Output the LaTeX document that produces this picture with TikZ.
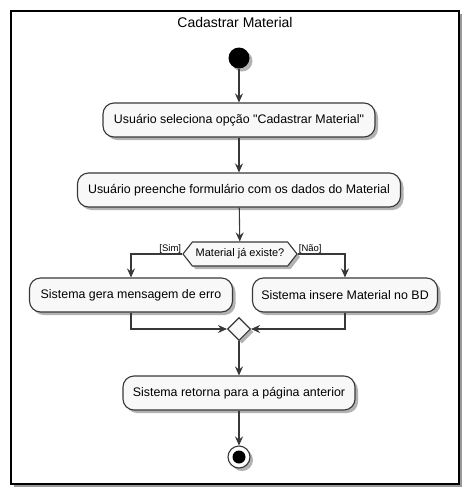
\documentclass[tikz,border=0pt]{standalone}
\usepackage{fontspec}
\setmainfont{Liberation Sans}[Ligatures=TeXOff]
\usetikzlibrary{arrows.meta,shapes.geometric,shapes.symbols,shadows}
\definecolor{ln}{HTML}{383838}
\definecolor{bx}{HTML}{F8F8F8}
\tikzset{
  shad/.style={drop shadow={shadow xshift=3pt,shadow yshift=-3pt,opacity=0.3,fill=black}},
  act/.style={draw=ln,fill=bx,line width=1.1pt,rounded corners=11pt,minimum height=34pt,inner xsep=8pt,font=\fontsize{12.4}{14}\selectfont,shad},
  flow/.style={draw=ln,line width=1.1pt,-{Stealth[length=9pt,width=8pt,inset=3pt]}},
  lbl/.style={font=\fontsize{9.5}{11}\selectfont,inner sep=1pt},
}
\begin{document}
\begin{tikzpicture}[x=1pt,y=-1pt]
\useasboundingbox (0,0) rectangle (470,496);
\node[draw=black,fill=white,line width=1.5pt,minimum width=448pt,minimum height=473pt,anchor=north west,inner sep=0pt,drop shadow={shadow xshift=3pt,shadow yshift=-3pt,opacity=0.4,fill=black}] (frame) at (10,10) {};
\node[font=\fontsize{14}{16}\selectfont] (title) at (235,22) {Cadastrar Material};
\node[circle,fill=black,minimum size=21pt,inner sep=0pt,shad] (start) at (239,58) {};
\node[act,minimum width=272pt] (b1) at (239,120) {Usuário seleciona opção "Cadastrar Material"};
\node[act,minimum width=323pt] (b2) at (239,190) {Usuário preenche formulário com os dados do Material};
\node[signal,signal to=west and east,signal pointer angle=104,draw=ln,fill=bx,line width=1.1pt,minimum width=114pt,minimum height=24pt,inner sep=1pt,font=\fontsize{11}{13}\selectfont,shad] (hex) at (240,254) {Material já existe?};
\node[act,minimum width=203pt] (b3) at (131,295) {Sistema gera mensagem de erro};
\node[act,minimum width=185pt] (b4) at (345,295) {Sistema insere Material no BD};
\node[diamond,draw=ln,fill=bx,line width=1.1pt,minimum width=23pt,minimum height=23pt,inner sep=0pt,shad] (merge) at (239,329) {};
\node[act,minimum width=232pt] (b5) at (239,393) {Sistema retorna para a página anterior};
\node[circle,draw=ln,fill=white,line width=1.1pt,minimum size=22pt,inner sep=0pt,shad] (endc) at (239,457) {};
\node[circle,fill=black,minimum size=13pt,inner sep=0pt] (endi) at (endc) {};
\draw[flow] (start) -- (b1);
\draw[flow] (b1) -- (b2);
\draw[flow] (b2) -- (hex);
\draw[flow] (hex.west) -| (b3.north);
\draw[flow] (hex.east) -| (b4.north);
\node[lbl,anchor=south east] (sim) at ([yshift=-1pt]hex.west) {[Sim]};
\node[lbl,anchor=south west] (nao) at ([yshift=-1pt]hex.east) {[Não]};
\draw[flow] (b3.south) |- (merge.west);
\draw[flow] (b4.south) |- (merge.east);
\draw[flow] (merge) -- (b5);
\draw[flow] (b5) -- (endc);
\end{tikzpicture}
\end{document}
